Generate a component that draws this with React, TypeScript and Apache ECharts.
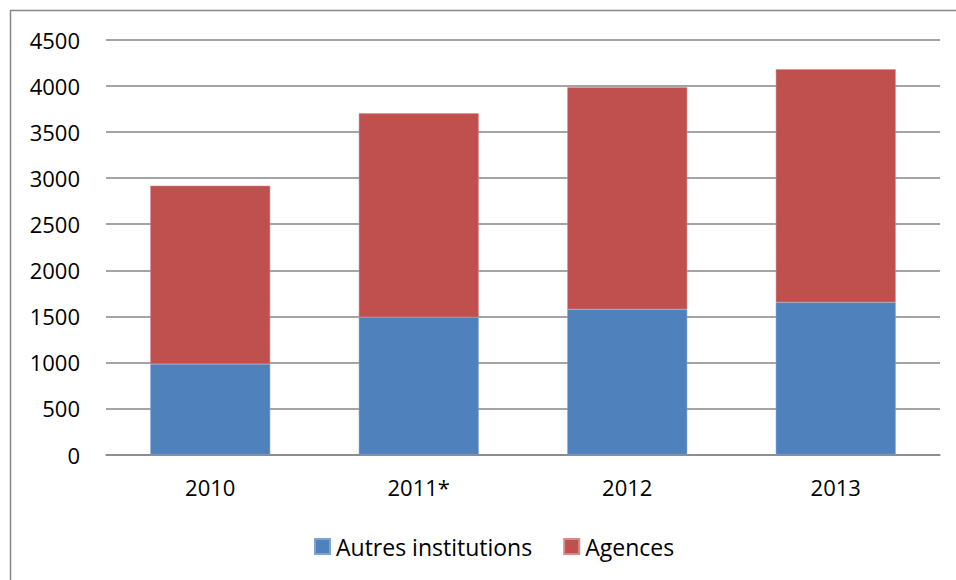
import React, { useEffect, useRef } from "react";
import * as echarts from "echarts";

const categories = ["2010", "2011*", "2012", "2013"];
const autresInstitutions = [983, 1490, 1577, 1652];
const agences = [1935, 2214, 2409, 2530];
const yTicks = { min: 0, max: 4500, interval: 500 };

const FONT = "'Open Sans', 'Liberation Sans', sans-serif";

export default function App() {
  const ref = useRef<HTMLDivElement>(null);
  useEffect(() => {
    if (!ref.current) return;
    const chart = echarts.init(ref.current, undefined, { renderer: "svg" });
    chart.setOption({
      animation: false,
      backgroundColor: "#ffffff",
      textStyle: { fontFamily: FONT },
      graphic: [
        {
          type: "rect",
          shape: { x: 10.5, y: 10.5, width: 1200, height: 1200 },
          style: { fill: "none", stroke: "#868686", lineWidth: 1.5 },
          silent: true,
        },
      ],
      grid: { left: 106, right: 16, top: 40, bottom: 125.5, containLabel: false },
      legend: {
        left: 309,
        top: 530,
        itemWidth: 15,
        itemHeight: 15,
        itemGap: 31,
        icon: "rect",
        textStyle: { fontFamily: FONT, fontSize: 23, color: "#000", padding: [0, 0, 0, 1] },
        data: ["Autres institutions", "Agences"],
      },
      xAxis: {
        type: "category",
        data: categories,
        axisLine: { show: true, lineStyle: { color: "#868686", width: 1.5 } },
        axisTick: { show: false },
        axisLabel: { color: "#000", fontSize: 22, fontFamily: FONT, margin: 21 },
      },
      yAxis: {
        type: "value",
        min: yTicks.min,
        max: yTicks.max,
        interval: yTicks.interval,
        axisLine: { show: false },
        axisTick: { show: false },
        splitLine: { lineStyle: { color: "#868686", width: 1.5 } },
        axisLabel: {
          color: "#000",
          fontSize: 22,
          fontFamily: FONT,
          margin: 26,
          formatter: (v: number) => String(v),
        },
      },
      series: [
        {
          name: "Autres institutions",
          type: "bar",
          stack: "total",
          data: autresInstitutions,
          barWidth: "57.5%",
          itemStyle: { color: "#4F81BD", borderColor: "#7FA3D3", borderWidth: 0.5 },
        },
        {
          name: "Agences",
          type: "bar",
          stack: "total",
          data: agences,
          barWidth: "57.5%",
          itemStyle: { color: "#C0504D", borderColor: "#D98A88", borderWidth: 0.5 },
        },
      ],
    });
    return () => chart.dispose();
  }, []);
  return (
    <div
      ref={ref}
      style={{ position: "fixed", left: 0, top: 0, width: 956, height: 580 }}
    />
  );
}
